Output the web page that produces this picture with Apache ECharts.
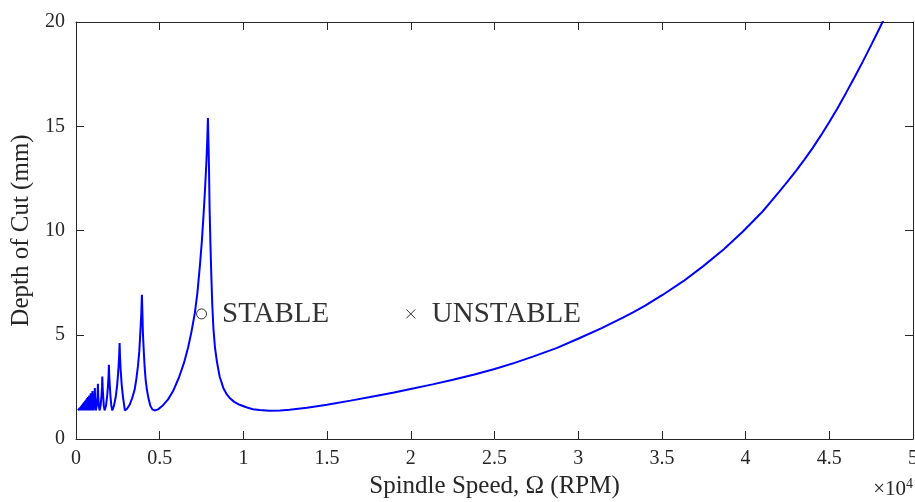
<!DOCTYPE html>
<html>
<head>
    <meta charset="utf-8">
    <title>Stability lobes</title>
    <script src="https://cdn.jsdelivr.net/npm/echarts@6/dist/echarts.min.js"></script>
    <style>
        body { margin: 0; background: #fff; }
    </style>
</head>
<body>
    <div id="main" style="width: 915px;height:502px;"></div>
    <script type="text/javascript">
        // spindle speed (rpm) and limiting depth of cut (mm)
        var rpm = [
            120, 158, 166, 175, 185, 197, 207, 219, 228, 239, 250, 263, 272, 281, 292, 303,
            315, 328, 343, 358, 376, 394, 404, 415, 426, 438, 450, 464, 478, 493, 508, 525,
            543, 563, 584, 606, 630, 657, 685, 716, 750, 788, 830, 876, 928, 985, 1050,
            1100, 1126, 1150, 1189,
            1240, 1285, 1308, 1330, 1365, 1410,
            1470, 1525, 1555, 1571, 1590, 1620, 1660, 1709,
            1790, 1860, 1915, 1945, 1966, 1985, 2015, 2060, 2110, 2169,
            2270, 2370, 2460, 2530, 2575, 2605, 2630, 2670, 2730, 2810, 2880, 2920,
            3050, 3202, 3350, 3501, 3600, 3698, 3780, 3841, 3900, 3937, 3970, 3997, 4050,
            4098, 4160, 4236, 4330, 4439, 4560, 4696,
            4900, 5150, 5500, 5800, 6150, 6450, 6700, 6900, 7100, 7250, 7400, 7520, 7623,
            7710, 7784, 7840, 7880, 7912, 7945, 7982, 8030, 8085, 8142, 8210, 8300, 8420,
            8580, 8800, 9000, 9200, 9450, 9774, 10174, 10568, 10969, 11566, 12200, 12760,
            13800, 14989, 16400, 17737, 19000, 19989, 21300, 22517, 23800, 25007, 26200,
            27295, 28700, 30026, 31400, 32672, 33300, 34000, 35062, 36300, 37452, 38700,
            39840, 40400, 41000, 41500, 42000, 42500, 43000, 43500, 44000, 44500, 45000,
            45500, 46000, 46500, 47000, 47500, 48000, 48300
        ];
        var depth = [
            1.37, 1.41, 1.37, 1.43, 1.37, 1.45, 1.37, 1.48, 1.37, 1.50, 1.37, 1.52, 1.37, 1.54, 1.37, 1.57,
            1.37, 1.59, 1.37, 1.63, 1.37, 1.67, 1.37, 1.69, 1.37, 1.71, 1.37, 1.74, 1.37, 1.77, 1.37, 1.81,
            1.37, 1.85, 1.37, 1.89, 1.37, 1.95, 1.37, 2.01, 1.37, 2.09, 1.37, 2.19, 1.37, 2.30, 1.37,
            1.75, 2.44, 1.75, 1.37,
            1.6, 2.05, 2.65, 2.05, 1.6, 1.37,
            1.6, 2.1, 2.5, 3.0, 2.5, 2.1, 1.6, 1.37,
            1.6, 2.05, 2.6, 3.05, 3.56, 3.05, 2.6, 2.05, 1.6, 1.37,
            1.6, 2.0, 2.6, 3.3, 3.95, 4.60, 3.95, 3.3, 2.6, 2.0, 1.6, 1.37,
            1.45, 1.64, 1.95, 2.36, 2.85, 3.48, 4.2, 5.08, 6.0, 6.92, 6.0, 5.08, 4.2,
            3.48, 2.85, 2.36, 1.95, 1.6, 1.42, 1.37,
            1.42, 1.58, 1.9, 2.3, 2.95, 3.65, 4.4, 5.15, 6.05, 7.0, 8.3, 9.5, 10.8,
            12.0, 13.2, 14.3, 15.39, 14.3, 13.0, 11.0, 9.4, 7.8, 6.4, 5.3, 4.4, 3.7,
            3.0, 2.45, 2.15, 1.95, 1.78, 1.64, 1.52, 1.43, 1.39, 1.36, 1.37, 1.40,
            1.50, 1.64, 1.84, 2.04, 2.23, 2.40, 2.62, 2.84, 3.09, 3.36, 3.65,
            3.95, 4.36, 4.82, 5.32, 5.82, 6.09, 6.40, 6.92, 7.58, 8.28, 9.10,
            9.95, 10.41, 10.9, 11.37, 11.85, 12.34, 12.85, 13.39, 13.95, 14.56, 15.2,
            15.88, 16.6, 17.34, 18.1, 18.89, 19.7, 20.2
        ];
        var stablePoint = [7500, 6];
        var unstablePoint = [20000, 6];
        var xTicks = { min: 0, max: 50000, interval: 5000 };
        var yTicks = { min: 0, max: 20, interval: 5 };

        var lobe = [];
        for (var i = 0; i < rpm.length; i++) {
            lobe.push([rpm[i], depth[i]]);
        }

        var FONT = '"Liberation Serif", "Times New Roman", serif';
        var AXIS = '#262626';

        function boxAxis(pos, t, labels) {
            return {
                type: 'value',
                position: pos,
                min: t.min,
                max: t.max,
                interval: t.interval,
                axisLine: { show: true, onZero: false, lineStyle: { color: AXIS, width: 1 } },
                axisTick: { show: true, inside: true, length: 8, lineStyle: { color: AXIS } },
                axisLabel: { show: labels },
                splitLine: { show: false }
            };
        }

        var xBottom = boxAxis('bottom', xTicks, true);
        xBottom.axisLabel = {
            show: true, margin: 10, fontSize: 20, color: AXIS, fontFamily: FONT,
            showMaxLabel: true, showMinLabel: true,
            formatter: function (v) { return String(v / 10000); }
        };
        xBottom.name = 'Spindle Speed, \u03A9 (RPM)';
        xBottom.nameLocation = 'middle';
        xBottom.nameGap = 35;
        xBottom.nameTextStyle = { fontSize: 25, color: AXIS, fontFamily: FONT };

        var yLeft = boxAxis('left', yTicks, true);
        yLeft.axisLabel = { show: true, margin: 11, fontSize: 20, color: AXIS, fontFamily: FONT };
        yLeft.name = 'Depth of Cut (mm)';
        yLeft.nameLocation = 'middle';
        yLeft.nameGap = 38;
        yLeft.nameTextStyle = { fontSize: 25, color: AXIS, fontFamily: FONT };

        var option = {
            animation: false,
            backgroundColor: '#fff',
            grid: { left: 76, right: 2, top: 22, bottom: 63, containLabel: false, outerBoundsMode: 'none' },
            xAxis: [xBottom, boxAxis('top', xTicks, false)],
            yAxis: [yLeft, boxAxis('right', yTicks, false)],
            graphic: [{
                type: 'text',
                right: 2,
                top: 477,
                style: {
                    text: '\u00D710{s|4}',
                    font: '21px ' + FONT,
                    fill: AXIS,
                    rich: { s: { fontSize: 14, verticalAlign: 'top', padding: [0, 0, 10, 0], fontFamily: FONT } }
                }
            }],
            series: [
                {
                    type: 'line',
                    data: lobe,
                    showSymbol: false,
                    smooth: false,
                    clip: true,
                    lineStyle: { color: '#0000ff', width: 2 },
                    silent: true
                },
                {
                    type: 'scatter',
                    data: [stablePoint],
                    symbol: 'circle',
                    symbolSize: 10,
                    itemStyle: { color: 'rgba(0,0,0,0)', borderColor: '#000', borderWidth: 1 },
                    label: {
                        show: true, position: 'right', distance: 15,
                        formatter: 'STABLE', fontSize: 29, color: '#000', fontFamily: FONT
                    },
                    silent: true
                },
                {
                    type: 'scatter',
                    data: [unstablePoint],
                    symbol: 'path://M0,0L10,10M10,0L0,10',
                    symbolSize: 9,
                    itemStyle: { color: 'none', borderColor: '#000', borderWidth: 1 },
                    label: {
                        show: true, position: 'right', distance: 14,
                        formatter: 'UNSTABLE', fontSize: 29, color: '#000', fontFamily: FONT
                    },
                    silent: true
                }
            ]
        };

        var myChart = echarts.init(document.getElementById('main'));
        myChart.setOption(option);
    </script>
</body>
</html>
